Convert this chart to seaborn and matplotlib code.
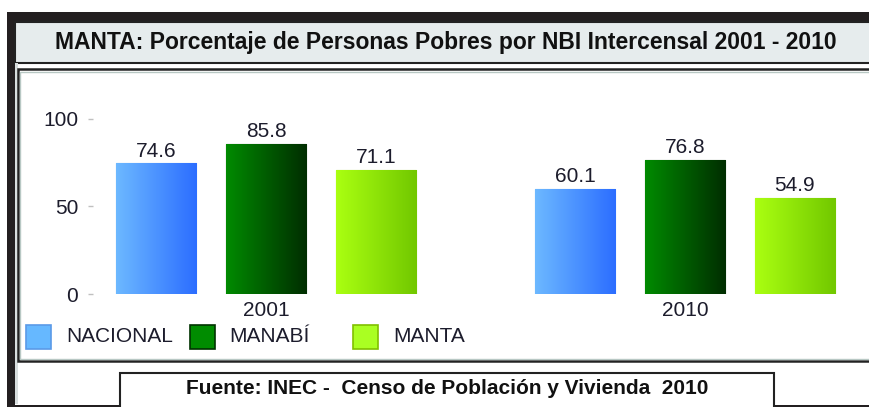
import seaborn as sns
import matplotlib.pyplot as plt
import pandas as pd
import numpy as np
from matplotlib.patches import Rectangle
from matplotlib.colors import LinearSegmentedColormap

# Datos
anios = ["2001", "2010"]
regiones = ["NACIONAL", "MANABÍ", "MANTA"]
nacional = [74.6, 60.1]
manabi = [85.8, 76.8]
manta = [71.1, 54.9]

# colores: base (leyenda), degradado izquierda -> derecha, borde
base = ["#66b8ff", "#008c00", "#aaff22"]
grad = [("#6cb8ff", "#2c6eff"), ("#008a00", "#002e00"), ("#aaff11", "#72c800")]
borde = ["#5a9ae8", "#003300", "#80c000"]

df = pd.DataFrame({
    "Año": anios * 3,
    "Valor": nacional + manabi + manta,
    "Region": [r for r in regiones for _ in anios],
})

W, H = 870, 407
sns.set_theme(style="white")
plt.rcParams["font.family"] = ["Liberation Sans", "DejaVu Sans"]

fig = plt.figure(figsize=(W / 100, H / 100), dpi=100)
fig.patch.set_facecolor("white")


def caja(x0, y0, x1, y1, z=-5, **kw):
    # rectangulo en pixeles (origen arriba a la izquierda)
    r = Rectangle((x0 / W, 1 - y1 / H), (x1 - x0) / W, (y1 - y0) / H,
                  transform=fig.transFigure, zorder=z, **kw)
    fig.add_artist(r)
    return r


# marco exterior
caja(7, 12, 880, 415, facecolor="white", edgecolor="none")
caja(7, 12, 880, 22, facecolor="#231f20", edgecolor="none")
caja(7, 12, 15, 415, facecolor="#231f20", edgecolor="none")
caja(7, 404.5, 880, 415, facecolor="#231f20", edgecolor="none")
# banda del titulo
caja(15, 22, 880, 63, facecolor="#e6eced", edgecolor="#222222", linewidth=1.5)
caja(15, 63, 18, 404, facecolor="#d8dede", edgecolor="none")
# caja del grafico
caja(18, 69, 880, 361, facecolor="white", edgecolor="#222222", linewidth=1.8)
caja(20.5, 71.5, 880, 358.5, facecolor="none", edgecolor="#b8c8c4", linewidth=1)
# caja de la fuente
caja(120, 373, 774, 420, facecolor="white", edgecolor="#222222", linewidth=1.5)

fig.text(446 / W, 1 - 42 / H,
         "MANTA: Porcentaje de Personas Pobres por NBI Intercensal 2001 - 2010",
         ha="center", va="center", fontsize=16.5, fontweight="bold", color="#111111")
fig.text(447 / W, 1 - 389 / H,
         "Fuente: INEC -  Censo de Población y Vivienda  2010",
         ha="center", va="center", fontsize=15, fontweight="bold", color="#111111")

# ejes
ax_l, ax_r, ax_b, ax_t = 93, 866, 294, 119
ax = fig.add_axes([ax_l / W, 1 - ax_b / H, (ax_r - ax_l) / W, (ax_b - ax_t) / H])
ax.set_facecolor("none")
ax.set_zorder(5)

sns.barplot(data=df, x="Año", y="Valor", hue="Region", hue_order=regiones,
            palette=base, width=0.786, gap=0.27, legend=False, ax=ax,
            err_kws={"linewidth": 0})

c0, pitch = 266, 419
xlim = ((ax_l - c0) / pitch, (ax_r - c0) / pitch)
ylim = (0, 100)

for i, cont in enumerate(ax.containers):
    cmap = LinearSegmentedColormap.from_list("g%d" % i, list(grad[i]))
    for bar in cont:
        bar.set_edgecolor(borde[i])
        bar.set_linewidth(0.8)
        x0, y0 = bar.get_x(), bar.get_y()
        x1, y1 = x0 + bar.get_width(), y0 + bar.get_height()
        img = ax.imshow(np.linspace(0, 1, 64)[None, :], extent=[x0, x1, y0, y1],
                        aspect="auto", cmap=cmap, zorder=bar.get_zorder() + 0.1,
                        interpolation="bilinear")
        img.set_clip_path(bar)
    ax.bar_label(cont, fmt="%.1f", padding=2, fontsize=15, color="#1c1c2c")

ax.set_xlim(*xlim)
ax.set_ylim(*ylim)
ax.set_yticks([0, 50, 100])
ax.set_xlabel("")
ax.set_ylabel("")
for s in ax.spines.values():
    s.set_visible(False)
ax.tick_params(axis="y", left=True, length=3.6, width=1, color="#c0c0c0",
               pad=7, labelsize=15, labelcolor="#1c1c2c")
ax.tick_params(axis="x", bottom=False, length=0, pad=5, labelsize=15,
               labelcolor="#1c1c2c")

# leyenda
ley_x = [26, 190, 353]
txt_x = [66, 229, 393]
for i, r in enumerate(regiones):
    caja(ley_x[i], 325, ley_x[i] + 25, 349, z=6, facecolor=base[i],
         edgecolor=borde[i], linewidth=1.2)
    fig.text(txt_x[i] / W, 1 - 337 / H, r, ha="left", va="center",
             fontsize=15, color="#1c1c2c")

fig.savefig("out.png", dpi=100)
